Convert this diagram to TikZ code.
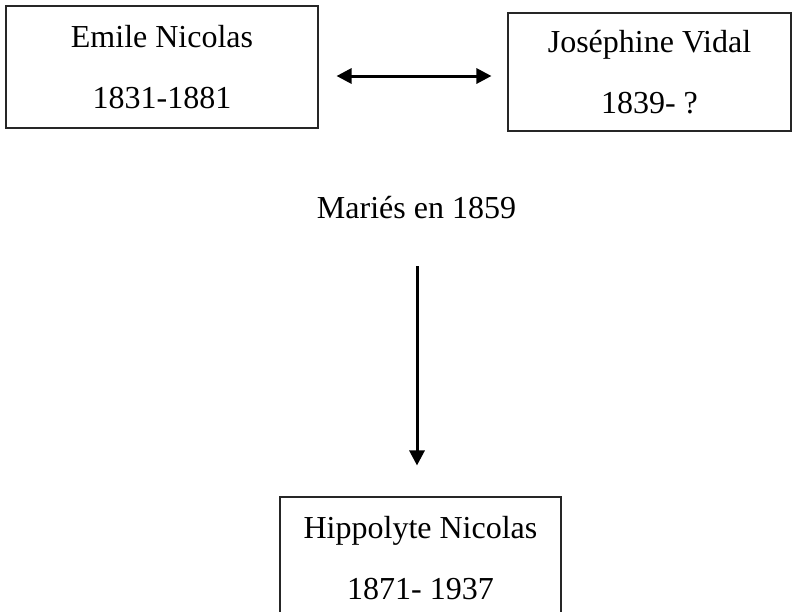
\documentclass[tikz,border=0pt]{standalone}
\usepackage{fontspec}
\setmainfont{Liberation Serif}
\usetikzlibrary{arrows.meta}
\begin{document}
\begin{tikzpicture}[x=1pt,y=-1pt,
  personbox/.style={draw=black!85, line width=1.1pt, rectangle, inner sep=0pt, align=center,
    font=\fontsize{32}{61}\selectfont},
  linktext/.style={font=\fontsize{32}{38}\selectfont, inner sep=0pt},
  conn/.style={line width=3pt, -{Triangle[length=15pt,width=15pt]}},
  dconn/.style={line width=3pt, {Triangle[length=15pt,width=15pt]}-{Triangle[length=15pt,width=15pt]}}]
\useasboundingbox (0,0) rectangle (792,611);
\clip (0,0) rectangle (792,611);
\node[personbox, minimum width=312pt, minimum height=122pt] (emile) at (162,67) {Emile Nicolas\\1831-1881};
\node[personbox, minimum width=283pt, minimum height=118pt] (jose) at (649.5,72) {Joséphine Vidal\\1839- ?};
\node[personbox, minimum width=281pt, minimum height=122pt] (hipp) at (420.5,558) {Hippolyte Nicolas\\1871- 1937};
\node[linktext, anchor=base] (maries) at (416.5,218) {Mariés en 1859};
\coordinate (hy) at (0,76);
\coordinate (vx) at (417,0);
\coordinate (vstart) at (417,266);
\draw[dconn, shorten <=18pt, shorten >=16pt] (emile.east |- hy) -- (jose.west |- hy);
\draw[conn, shorten >=31pt] (vstart) -- (hipp.north -| vx);
\end{tikzpicture}
\end{document}
